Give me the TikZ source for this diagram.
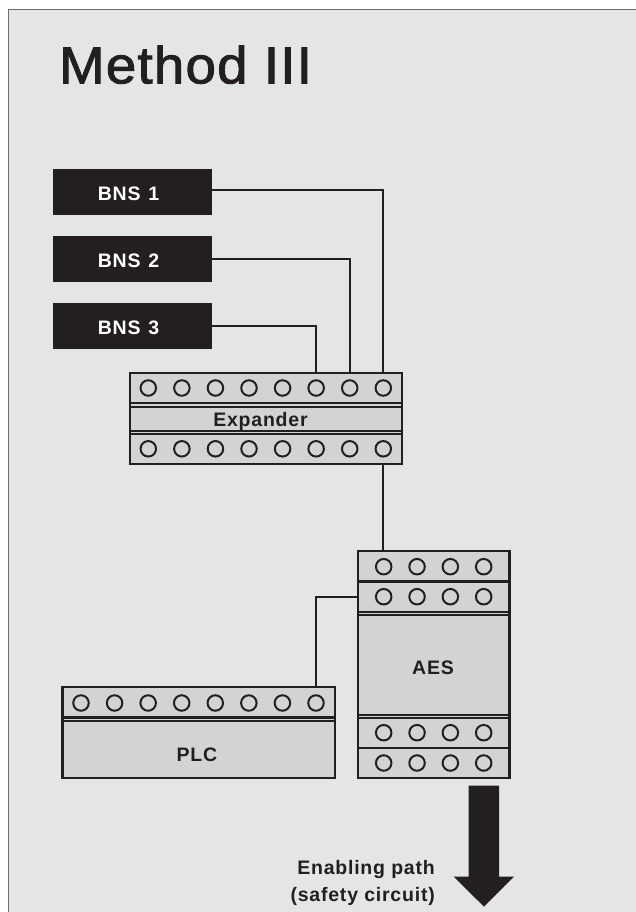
\documentclass[tikz,border=0pt]{standalone}
\usepackage{fontspec}
\setmainfont{Liberation Sans}
\newfontfamily\titlefont[FakeBold=1.8,FakeStretch=1.05,LetterSpace=2.4]{Liberation Sans}
\newfontfamily\labfont[LetterSpace=4]{Liberation Sans Bold}
\definecolor{ink}{HTML}{231F20}
\definecolor{panel}{HTML}{E4E5E7}
\definecolor{body}{HTML}{D2D3D5}
\definecolor{framegray}{HTML}{6D6E70}
\newcommand{\sensortext}[1]{BNS\hspace{1.5pt} #1\hspace*{8pt}}
\tikzset{
  x=1pt,y=-1pt,
  unitbox/.style={draw=ink,line width=2.3pt,fill=body,minimum width=#1,inner sep=0pt,outer sep=0pt},
  sensor/.style={fill=ink,text=white,minimum width=159pt,minimum height=46pt,inner sep=0pt,outer sep=0pt,text height=17.5pt,text depth=0pt,font=\fontsize{19.5}{21}\labfont},
  term/.style={circle,draw=ink,line width=2pt,minimum size=15.5pt,inner sep=0pt,outer sep=0pt},
  wire/.style={draw=ink,line width=2.1pt},
  rail/.style={draw=ink,line width=2.2pt},
  lab/.style={text=ink,font=\fontsize{19.5}{23}\labfont,inner sep=0pt},
}
\begin{document}
\begin{tikzpicture}
\useasboundingbox (0,0) rectangle (636,912);
\fill[white] (0,0) rectangle (636,912);
\fill[panel] (8,10) rectangle (636,912);
\draw[framegray,line width=1pt] (8,912) -- (8,10) -- (636,10);
\node[anchor=base west,text=ink,inner sep=0pt,font=\fontsize{52}{56}\titlefont] (title) at (59,83.3) {Method III};

\node[sensor] (bns1) at (132.5,192) {\sensortext{1}};
\node[sensor] (bns2) at (132.5,259) {\sensortext{2}};
\node[sensor] (bns3) at (132.5,326) {\sensortext{3}};

% Expander
\node[unitbox=272.5pt,minimum height=91pt] (exp) at (266,418.5) {};
\foreach \i in {1,...,8}{
  \node[term] (et\i) at ({148.3+(\i-1)*33.57},388) {};
  \node[term] (eb\i) at ({148.3+(\i-1)*33.57},448.8) {};
}
\foreach \y in {403.2,406.6,430.8,434.2}{\draw[rail] (exp.west |- 0,\y) -- (exp.east |- 0,\y);}
\node[lab] (explab) at (260.5,421) {Expander};

% AES
\node[unitbox=151.5pt,minimum height=227pt] (aes) at (433.6,664.8) {};
\foreach \i in {1,...,4}{
  \node[term] (a\i) at ({383.7+(\i-1)*33.33},566.7) {};
  \node[term] (b\i) at ({383.7+(\i-1)*33.33},596.7) {};
  \node[term] (c\i) at ({383.7+(\i-1)*33.33},732.7) {};
  \node[term] (d\i) at ({383.7+(\i-1)*33.33},763) {};
}
\foreach \y in {581.5,611.8,615.2,715,718.2,747.8}{\draw[rail] (aes.west |- 0,\y) -- (aes.east |- 0,\y);}
\node[lab] (aeslab) at (433,668) {AES};

% PLC
\node[unitbox=272.5pt,minimum height=91pt] (plc) at (198.7,732.8) {};
\foreach \i in {1,...,8}{
  \node[term] (p\i) at ({81+(\i-1)*33.57},703) {};
}
\foreach \y in {717.4,720.8}{\draw[rail] (plc.west |- 0,\y) -- (plc.east |- 0,\y);}
\node[lab] (plclab) at (197,755) {PLC};

% Wires
\draw[wire] (bns1.east |- 0,190) -| (et8 |- exp.north);
\draw[wire] (bns2.east) -| (et7 |- exp.north);
\draw[wire] (bns3.east) -| (et6 |- exp.north);
\draw[wire] (eb8 |- exp.south) -- (eb8 |- aes.north);
\draw[wire] (aes.west |- b1) -| (p8 |- plc.north);

% Enabling path arrow
\fill[ink] (468.7,785.7) -- (499.2,785.7) -- (499.2,876.7) -- (513.8,876.7) -- (484,906.7) -- (453.8,876.7) -- (468.7,876.7) -- cycle;
\node[lab,anchor=base east] (en1) at (435,874) {Enabling path};
\node[lab,anchor=base east] (en2) at (435,901.5) {(safety circuit)};
\end{tikzpicture}
\end{document}
